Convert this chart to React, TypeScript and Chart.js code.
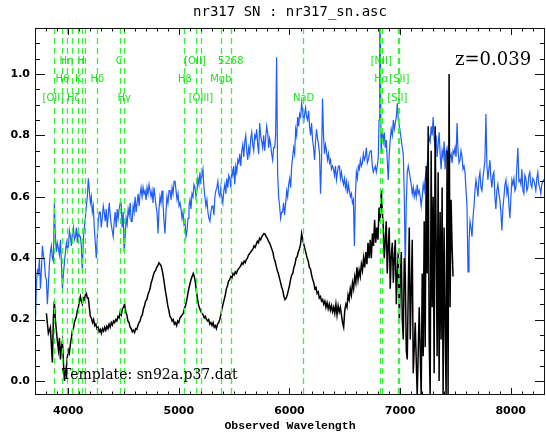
import React, { useEffect, useRef } from "react";
import { Chart, registerables } from "chart.js";

Chart.register(...registerables);

const X_MIN = 3700;
const X_MAX = 8310;
const Y_MIN = -0.046;
const Y_MAX = 1.15;

const xTickValues = [4000, 5000, 6000, 7000, 8000];
const yTickValues = [0, 0.2, 0.4, 0.6, 0.8, 1.0];

const titleText = "nr317 SN : nr317_sn.asc";
const xAxisTitle = "Observed Wavelength";
const redshiftText = "z=0.039";
const templateText = "Template: sn92a.p37.dat";

// observed spectrum (blue)
const obsWave = [
  3705, 3713, 3722, 3731, 3740, 3749, 3758, 3767, 3776, 3785,
  3794, 3803, 3812, 3821, 3830, 3839, 3848, 3857, 3866, 3875,
  3884, 3893, 3902, 3912, 3921, 3930, 3939, 3948, 3957, 3966,
  3975, 3984, 3993, 4002, 4011, 4020, 4029, 4038, 4047, 4056,
  4065, 4074, 4083, 4092, 4101, 4110, 4119, 4128, 4137, 4146,
  4155, 4164, 4173, 4182, 4191, 4200, 4209, 4218, 4227, 4236,
  4245, 4254, 4263, 4272, 4281, 4290, 4299, 4308, 4317, 4326,
  4335, 4344, 4353, 4362, 4371, 4380, 4389, 4398, 4407, 4416,
  4425, 4434, 4443, 4452, 4461, 4470, 4479, 4488, 4497, 4506,
  4515, 4524, 4533, 4542, 4551, 4560, 4569, 4578, 4587, 4596,
  4605, 4614, 4623, 4632, 4641, 4650, 4659, 4668, 4677, 4686,
  4695, 4704, 4713, 4722, 4731, 4740, 4749, 4758, 4767, 4776,
  4785, 4794, 4803, 4812, 4821, 4830, 4839, 4848, 4857, 4866,
  4875, 4884, 4893, 4902, 4912, 4921, 4930, 4939, 4948, 4957,
  4966, 4975, 4984, 4993, 5002, 5011, 5020, 5029, 5038, 5047,
  5056, 5065, 5074, 5083, 5092, 5101, 5110, 5119, 5128, 5137,
  5146, 5155, 5164, 5173, 5182, 5191, 5200, 5209, 5218, 5227,
  5236, 5245, 5254, 5263, 5272, 5281, 5290, 5299, 5308, 5317,
  5326, 5335, 5344, 5353, 5362, 5371, 5380, 5389, 5398, 5407,
  5416, 5425, 5434, 5443, 5452, 5461, 5470, 5479, 5488, 5497,
  5506, 5515, 5524, 5533, 5542, 5551, 5560, 5569, 5578, 5587,
  5596, 5605, 5614, 5623, 5632, 5641, 5650, 5659, 5668, 5677,
  5686, 5695, 5704, 5713, 5722, 5731, 5740, 5749, 5758, 5767,
  5776, 5785, 5794, 5803, 5812, 5821, 5830, 5839, 5848, 5857,
  5866, 5875, 5884, 5893, 5902, 5911, 5920, 5929, 5938, 5947,
  5956, 5966, 5975, 5984, 5993, 6002, 6011, 6020, 6029, 6038,
  6047, 6056, 6065, 6074, 6083, 6092, 6101, 6110, 6119, 6128,
  6137, 6146, 6155, 6164, 6173, 6182, 6191, 6200, 6209, 6218,
  6227, 6236, 6245, 6254, 6263, 6272, 6281, 6290, 6299, 6308,
  6317, 6326, 6335, 6344, 6353, 6362, 6371, 6380, 6389, 6398,
  6407, 6416, 6425, 6434, 6443, 6452, 6461, 6470, 6479, 6488,
  6497, 6506, 6515, 6524, 6533, 6542, 6551, 6560, 6569, 6578,
  6587, 6596, 6605, 6614, 6623, 6632, 6641, 6650, 6659, 6668,
  6677, 6686, 6695, 6704, 6713, 6722, 6731, 6740, 6749, 6758,
  6767, 6776, 6785, 6794, 6803, 6810, 6816, 6822, 6828, 6839,
  6848, 6857, 6866, 6875, 6884, 6893, 6902, 6911, 6920, 6930,
  6939, 6948, 6957, 6966, 6975, 6984, 6993, 7002, 7011, 7020,
  7029, 7038, 7047, 7056, 7065, 7074, 7083, 7092, 7101, 7110,
  7119, 7128, 7137, 7146, 7155, 7164, 7173, 7182, 7191, 7200,
  7209, 7218, 7227, 7236, 7245, 7254, 7263, 7272, 7281, 7290,
  7299, 7308, 7317, 7326, 7335, 7344, 7353, 7362, 7371, 7380,
  7389, 7398, 7407, 7416, 7425, 7434, 7443, 7452, 7461, 7470,
  7479, 7488, 7497, 7506, 7515, 7524, 7533, 7542, 7551, 7560,
  7569, 7578, 7587, 7596, 7605, 7614, 7623, 7632, 7641, 7650,
  7659, 7668, 7677, 7686, 7695, 7704, 7713, 7722, 7731, 7740,
  7749, 7758, 7767, 7776, 7785, 7794, 7803, 7812, 7821, 7830,
  7839, 7848, 7857, 7866, 7875, 7884, 7893, 7902, 7911, 7920,
  7929, 7939, 7948, 7957, 7966, 7975, 7984, 7993, 8002, 8011,
  8020, 8029, 8038, 8047, 8056, 8065, 8074, 8083, 8092, 8101,
  8110, 8119, 8128, 8137, 8146, 8155, 8164, 8173, 8182, 8191,
  8200, 8209, 8218, 8227, 8236, 8245, 8254, 8263, 8272, 8281,
  8290, 8299, 8308,
];
const obsFlux = [
  0.205, 0.32, 0.36, 0.35, 0.40, 0.30, 0.36, 0.44, 0.41, 0.39,
  0.34, 0.33, 0.25, 0.31, 0.38, 0.42, 0.44, 0.40, 0.39, 0.58,
  0.47, 0.42, 0.45, 0.43, 0.41, 0.46, 0.38, 0.30, 0.35, 0.385,
  0.42, 0.45, 0.43, 0.44, 0.49, 0.47, 0.44, 0.48, 0.50, 0.46,
  0.47, 0.50, 0.45, 0.49, 0.47, 0.47, 0.44, 0.36, 0.46, 0.50,
  0.53, 0.57, 0.60, 0.66, 0.62, 0.58, 0.60, 0.55, 0.57, 0.50,
  0.45, 0.40, 0.47, 0.52, 0.55, 0.55, 0.50, 0.53, 0.57, 0.55,
  0.52, 0.56, 0.50, 0.54, 0.58, 0.54, 0.51, 0.49, 0.47, 0.52,
  0.55, 0.50, 0.56, 0.53, 0.56, 0.58, 0.58, 0.50, 0.55, 0.42,
  0.47, 0.53, 0.51, 0.56, 0.54, 0.58, 0.52, 0.52, 0.57, 0.55,
  0.60, 0.55, 0.58, 0.61, 0.57, 0.61, 0.63, 0.60, 0.63, 0.61,
  0.62, 0.59, 0.63, 0.61, 0.64, 0.62, 0.60, 0.62, 0.58, 0.63,
  0.60, 0.57, 0.55, 0.48, 0.56, 0.60, 0.58, 0.62, 0.58, 0.52,
  0.48, 0.55, 0.60, 0.58, 0.62, 0.62, 0.59, 0.63, 0.61, 0.65,
  0.65, 0.62, 0.59, 0.61, 0.57, 0.58, 0.56, 0.53, 0.55, 0.51,
  0.52, 0.47, 0.49, 0.53, 0.57, 0.59, 0.56, 0.61, 0.60, 0.64,
  0.63, 0.60, 0.62, 0.66, 0.64, 0.68, 0.64, 0.67, 0.69, 0.63,
  0.60, 0.57, 0.59, 0.55, 0.53, 0.52, 0.55, 0.57, 0.57, 0.54,
  0.60, 0.62, 0.63, 0.65, 0.61, 0.60, 0.63, 0.60, 0.58, 0.62,
  0.64, 0.61, 0.66, 0.63, 0.67, 0.66, 0.63, 0.69, 0.67, 0.70,
  0.64, 0.70, 0.68, 0.72, 0.71, 0.74, 0.70, 0.75, 0.77, 0.73,
  0.78, 0.80, 0.75, 0.72, 0.76, 0.74, 0.79, 0.81, 0.77, 0.75,
  0.80, 0.79, 0.82, 0.77, 0.74, 0.84, 0.80, 0.78, 0.76, 0.80,
  0.75, 0.79, 0.83, 0.81, 0.76, 0.79, 0.77, 0.74, 0.72, 0.76,
  0.76, 0.80, 1.055, 0.68, 0.60, 0.57, 0.53, 0.55, 0.55, 0.58,
  0.54, 0.58, 0.62, 0.60, 0.64, 0.66, 0.63, 0.70, 0.73, 0.76,
  0.74, 0.82, 0.80, 0.86, 0.83, 0.87, 0.86, 0.905, 0.88, 0.84,
  0.87, 0.89, 0.86, 0.85, 0.88, 0.83, 0.80, 0.84, 0.785, 0.76,
  0.72, 0.78, 0.82, 0.79, 0.77, 0.74, 0.61, 0.72, 0.92, 0.80,
  0.74, 0.77, 0.75, 0.72, 0.74, 0.71, 0.72, 0.69, 0.70, 0.69,
  0.67, 0.70, 0.655, 0.68, 0.70, 0.70, 0.66, 0.68, 0.655, 0.64,
  0.66, 0.63, 0.65, 0.61, 0.64, 0.62, 0.60, 0.61, 0.58, 0.59,
  0.44, 0.60, 0.68, 0.66, 0.70, 0.69, 0.72, 0.70, 0.71, 0.74,
  0.72, 0.73, 0.76, 0.71, 0.72, 0.74, 0.75, 0.75, 0.70, 0.68,
  0.69, 0.70, 0.68, 0.70, 0.73, 0.85, 1.20, 1.10, 0.74, 0.81,
  0.78, 0.81, 0.76, 0.785, 0.72, 0.655, 0.74, 0.785, 0.82, 0.80,
  0.85, 0.82, 0.84, 0.86, 0.905, 0.85, 0.83, 0.81, 0.785, 0.76,
  0.74, 0.60, 0.36, 0.58, 0.68, 0.70, 0.68, 0.66, 0.64, 0.61,
  0.63, 0.60, 0.62, 0.60, 0.64, 0.61, 0.62, 0.60, 0.57, 0.60,
  0.64, 0.62, 0.66, 0.68, 0.70, 0.76, 0.795, 0.78, 0.83, 0.80,
  0.86, 0.79, 0.76, 0.80, 0.73, 0.77, 0.81, 0.74, 0.69, 0.75,
  0.73, 0.78, 0.69, 0.75, 0.76, 0.70, 0.69, 0.73, 0.74, 0.71,
  0.75, 0.74, 0.76, 0.73, 0.84, 0.75, 0.71, 0.72, 0.75, 0.73,
  0.69, 0.70, 0.68, 0.62, 0.57, 0.355, 0.45, 0.52, 0.50, 0.47,
  0.53, 0.57, 0.62, 0.655, 0.63, 0.60, 0.66, 0.68, 0.63, 0.62,
  0.66, 0.69, 0.72, 0.87, 0.70, 0.655, 0.69, 0.72, 0.66, 0.63,
  0.67, 0.68, 0.60, 0.56, 0.62, 0.64, 0.61, 0.59, 0.55, 0.49,
  0.56, 0.60, 0.64, 0.655, 0.61, 0.63, 0.57, 0.53, 0.60, 0.655,
  0.64, 0.66, 0.62, 0.63, 0.70, 0.76, 0.65, 0.655, 0.64, 0.69,
  0.62, 0.61, 0.67, 0.66, 0.62, 0.63, 0.67, 0.68, 0.64, 0.63,
  0.66, 0.655, 0.64, 0.62, 0.66, 0.68, 0.64, 0.63, 0.61, 0.64,
  0.65, 0.655, 0.65,
];

// template spectrum (black)
const tmplWave = [
  3803, 3821, 3839, 3857, 3866, 3875, 3884, 3893, 3902, 3912,
  3921, 3930, 3939, 3948, 3957, 3966, 3975, 3984, 3993, 4002,
  4011, 4020, 4029, 4038, 4047, 4056, 4065, 4074, 4083, 4092,
  4101, 4110, 4119, 4128, 4137, 4146, 4155, 4164, 4173, 4182,
  4191, 4200,
  4210, 4220, 4230, 4240, 4250, 4260, 4270, 4280, 4290, 4300,
  4310, 4320, 4330, 4340, 4350, 4360, 4370, 4380, 4390, 4400,
  4410, 4420, 4430, 4440, 4450, 4460, 4470, 4480, 4490, 4500,
  4510, 4520, 4530, 4540, 4550, 4560, 4570, 4580, 4590, 4600,
  4610, 4620, 4630, 4640, 4650, 4660, 4670, 4680, 4690, 4700,
  4710, 4720, 4730, 4740, 4750, 4760, 4770, 4780, 4790, 4800,
  4810, 4820, 4830, 4840, 4850, 4860, 4870, 4880, 4890, 4900,
  4910, 4920, 4930, 4940, 4950, 4960, 4970, 4980, 4990, 5000,
  5010, 5020, 5030, 5040, 5050, 5060, 5070, 5080, 5090, 5100,
  5110, 5120, 5130, 5140, 5150, 5160, 5170, 5180, 5190, 5200,
  5210, 5220, 5230, 5240, 5250, 5260, 5270, 5280, 5290, 5300,
  5310, 5320, 5330, 5340, 5350, 5360, 5370, 5380, 5390, 5400,
  5410, 5420, 5430, 5440, 5450, 5460, 5470, 5480, 5490, 5500,
  5510, 5520, 5530, 5540, 5550, 5560, 5570, 5580, 5590, 5600,
  5610, 5620, 5630, 5640, 5650, 5660, 5670, 5680, 5690, 5700,
  5710, 5720, 5730, 5740, 5750, 5760, 5770, 5780, 5790, 5800,
  5810, 5820, 5830, 5840, 5850, 5860, 5870, 5880, 5890, 5900,
  5910, 5920, 5930, 5940, 5950, 5960, 5970, 5980, 5990, 6000,
  6010, 6020, 6030, 6040, 6050, 6060, 6070, 6080, 6090, 6100,
  6110, 6120, 6130, 6140, 6150, 6160, 6170, 6180, 6190, 6200,
  6210, 6220, 6230, 6240, 6250, 6260, 6270, 6280, 6290, 6300,
  6310, 6320, 6330, 6340, 6350, 6360, 6370, 6380, 6390, 6400,
  6410, 6420, 6430, 6440, 6450, 6460, 6470, 6480, 6490, 6500,
  6510, 6520, 6530, 6540, 6550, 6560, 6570, 6580, 6590, 6600,
  6610, 6620, 6630, 6640, 6650, 6660, 6670, 6680, 6690, 6700,
  6710, 6720, 6730, 6740, 6750, 6760, 6770, 6780, 6790, 6800,
  6810, 6820, 6830, 6840,
  6848, 6857, 6866, 6875, 6884, 6893, 6902, 6911, 6920, 6930,
  6939, 6948, 6957, 6966, 6975, 6984, 6993, 7002, 7011, 7020,
  7029, 7038, 7047, 7056, 7065, 7074, 7083, 7092, 7110, 7119,
  7137, 7155, 7173, 7191, 7200, 7209, 7218, 7227, 7236, 7245,
  7254, 7263, 7272, 7281, 7290, 7299, 7308, 7317, 7326, 7335,
  7344, 7353, 7362, 7371, 7380, 7389, 7398, 7407, 7416, 7425,
  7434, 7443, 7452, 7461, 7470, 7479,
];
const tmplFlux = [
  0.22, 0.155, 0.175, 0.06, 0.20, 0.26, 0.20, 0.165, 0.13, 0.10,
  0.14, 0.07, 0.11, 0.13, 0.06, 0.0, 0.03, 0.045, 0.08, 0.10,
  0.09, 0.12, 0.14, 0.165, 0.17, 0.19, 0.20, 0.21, 0.23, 0.24,
  0.26, 0.275, 0.26, 0.25, 0.27, 0.265, 0.28, 0.285, 0.27, 0.27,
  0.24, 0.21,
  0.205, 0.19, 0.20, 0.18, 0.185, 0.17, 0.175, 0.16, 0.168, 0.155,
  0.17, 0.162, 0.175, 0.165, 0.178, 0.17, 0.185, 0.175, 0.19, 0.182,
  0.195, 0.19, 0.20, 0.195, 0.21, 0.205, 0.225, 0.215, 0.235, 0.24,
  0.25, 0.225, 0.215, 0.195, 0.19, 0.175, 0.17, 0.16, 0.165, 0.158,
  0.17, 0.168, 0.18, 0.19, 0.195, 0.21, 0.215, 0.235, 0.245, 0.26,
  0.265, 0.28, 0.29, 0.30, 0.32, 0.33, 0.345, 0.355, 0.36, 0.37,
  0.375, 0.385, 0.38, 0.375, 0.36, 0.34, 0.315, 0.29, 0.27, 0.245,
  0.23, 0.21, 0.205, 0.195, 0.20, 0.185, 0.19, 0.18, 0.195, 0.19,
  0.205, 0.21, 0.215, 0.22, 0.235, 0.245, 0.26, 0.28, 0.30, 0.315,
  0.33, 0.34, 0.35, 0.34, 0.32, 0.29, 0.265, 0.245, 0.235, 0.225,
  0.22, 0.215, 0.205, 0.21, 0.20, 0.195, 0.20, 0.185, 0.19, 0.18,
  0.19, 0.175, 0.18, 0.17, 0.185, 0.19, 0.20, 0.215, 0.235, 0.25,
  0.265, 0.28, 0.30, 0.31, 0.325, 0.33, 0.34, 0.335, 0.35, 0.345,
  0.355, 0.35, 0.36, 0.365, 0.37, 0.375, 0.385, 0.38, 0.39, 0.385,
  0.395, 0.40, 0.41, 0.415, 0.42, 0.425, 0.43, 0.44, 0.435, 0.445,
  0.455, 0.45, 0.465, 0.46, 0.47, 0.475, 0.48, 0.478, 0.47, 0.465,
  0.455, 0.45, 0.44, 0.43, 0.42, 0.40, 0.39, 0.375, 0.36, 0.35,
  0.335, 0.32, 0.305, 0.295, 0.275, 0.265, 0.27, 0.28, 0.295, 0.31,
  0.33, 0.345, 0.35, 0.37, 0.38, 0.40, 0.405, 0.42, 0.43, 0.445,
  0.48, 0.46, 0.445, 0.43, 0.415, 0.40, 0.39, 0.37, 0.365, 0.345,
  0.33, 0.32, 0.30, 0.305, 0.285, 0.29, 0.27, 0.275, 0.26, 0.265,
  0.25, 0.26, 0.24, 0.255, 0.235, 0.25, 0.23, 0.245, 0.225, 0.24,
  0.22, 0.25, 0.215, 0.245, 0.225, 0.24, 0.215, 0.19, 0.175, 0.23,
  0.25, 0.24, 0.28, 0.265, 0.30, 0.28, 0.32, 0.30, 0.34, 0.32,
  0.37, 0.33, 0.36, 0.34, 0.38, 0.36, 0.40, 0.37, 0.42, 0.38,
  0.45, 0.40, 0.46, 0.40, 0.48, 0.44, 0.525, 0.45, 0.50, 0.46,
  0.565, 0.52, 0.62, 0.55,
  0.50, 0.40, 0.46, 0.52, 0.35, 0.44, 0.50, 0.30, 0.405, 0.45,
  0.32, 0.40, 0.46, 0.25, 0.35, 0.42, 0.19, 0.33, 0.42, 0.20,
  0.135, 0.40, 0.35, 0.10, 0.07, 0.30, 0.50, 0.135, 0.46, 0.025,
  0.19, -0.05, 0.24, -0.05, 0.35, 0.08, 0.52, 0.11, 0.70, 0.35,
  0.83, 0.135, -0.05, 0.75, 0.24, 0.60, 0.025, 0.83, 0.46, 0.08,
  0.68, 0.0, 0.55, 0.135, 0.63, -0.05, 0.50, 0.19, -0.05, 0.75,
  -0.05, 1.0, 0.24, 0.59, 0.44, 0.34,
];

// spectral line markers (observed wavelength)
const lineWaves = [
  3872, 3946, 3985, 4035, 4087, 4121, 4148, 4262, 4472, 4509,
  5051, 5152, 5202, 5377, 5473, 6122, 6819, 6840, 6978, 6993,
];
const labelTexts = [
  "Hη", "H", "C", "[OII]", "5268", "[NII]",
  "Hθ", "K", "Hδ", "Hβ", "Mgb", "Hα", "[SII]",
  "[OII]", "Hζ", "Hγ", "[OIII]", "NaD", "[SII]",
];
const labelWaves = [
  3984, 4119, 4461, 5146, 5470, 6830,
  3948, 4092, 4263, 5056, 5380, 6830, 6993,
  3866, 4047, 4506, 5200, 6128, 6975,
];
const labelRows = [
  0, 0, 0, 0, 0, 0,
  1, 1, 1, 1, 1, 1, 1,
  2, 2, 2, 2, 2, 2,
];

const overlayPlugin = {
  id: "overlay",
  afterDatasetsDraw(chart: any) {
    const { ctx, chartArea: a, scales } = chart;
    const x = scales.x;
    const y = scales.y;
    ctx.save();
    ctx.beginPath();
    ctx.rect(a.left, a.top, a.right - a.left, a.bottom - a.top);
    ctx.clip();
    ctx.strokeStyle = "#3cf03c";
    ctx.lineWidth = 1.3;
    ctx.setLineDash([6, 4]);
    for (const w of lineWaves) {
      const px = Math.round(x.getPixelForValue(w)) + 0.5;
      ctx.beginPath();
      ctx.moveTo(px, a.top);
      ctx.lineTo(px, a.bottom);
      ctx.stroke();
    }
    ctx.setLineDash([]);
    const rowOffsets = [33, 51, 70];
    ctx.fillStyle = "#22e022";
    ctx.font = '10px "DejaVu Sans"';
    ctx.textAlign = "center";
    ctx.textBaseline = "middle";
    labelTexts.forEach((t, i) => {
      ctx.fillText(t, x.getPixelForValue(labelWaves[i]), a.top + rowOffsets[labelRows[i]]);
    });
    ctx.restore();

    ctx.save();
    ctx.strokeStyle = "#111";
    ctx.lineWidth = 1;
    ctx.strokeRect(a.left + 0.5, a.top + 0.5, a.right - a.left - 1, a.bottom - a.top - 1);
    ctx.beginPath();
    for (let v = 3700; v <= X_MAX; v += 100) {
      const px = Math.round(x.getPixelForValue(v)) + 0.5;
      if (px < a.left || px > a.right) continue;
      const major = v % 1000 === 0;
      const len = major ? 7 : 3.5;
      ctx.moveTo(px, a.bottom);
      ctx.lineTo(px, a.bottom - len);
      ctx.moveTo(px, a.top);
      ctx.lineTo(px, a.top + len);
    }
    for (let i = 0; i <= 23; i++) {
      const v = i * 0.05;
      const py = Math.round(y.getPixelForValue(v)) + 0.5;
      if (py < a.top || py > a.bottom) continue;
      const major = i % 4 === 0;
      const len = major ? 10 : 5;
      ctx.moveTo(a.left, py);
      ctx.lineTo(a.left + len, py);
      ctx.moveTo(a.right, py);
      ctx.lineTo(a.right - len, py);
    }
    ctx.stroke();

    ctx.fillStyle = "#000";
    ctx.textAlign = "center";
    ctx.textBaseline = "middle";
    ctx.font = '14px "DejaVu Sans Mono"';
    ctx.fillText(titleText, (a.left + a.right) / 2, 12);
    ctx.font = 'bold 11.5px "Liberation Mono"';
    ctx.fillText(xAxisTitle, (a.left + a.right) / 2, 426);
    ctx.textAlign = "left";
    ctx.textBaseline = "alphabetic";
    ctx.font = '18px "DejaVu Serif"';
    ctx.fillText(redshiftText, a.right - 90, a.top + 37);
    ctx.font = '14px "DejaVu Serif"';
    ctx.fillText(templateText, a.left + 27, a.bottom - 16);
    ctx.restore();
  },
};

export default function App() {
  const ref = useRef<HTMLCanvasElement | null>(null);
  useEffect(() => {
    if (!ref.current) return;
    const obsPoints = obsWave.map((w, i) => ({ x: w, y: obsFlux[i] }));
    const tmplPoints = tmplWave.map((w, i) => ({ x: w, y: tmplFlux[i] }));
    const tickFont = { family: "DejaVu Sans", size: 11, weight: "bold" as const };
    const chart = new Chart(ref.current, {
      type: "line",
      data: {
        datasets: [
          {
            data: tmplPoints,
            borderColor: "#000000",
            borderWidth: 1.5,
            pointRadius: 0,
            tension: 0,
            order: 1,
          },
          {
            data: obsPoints,
            borderColor: "#1f5cff",
            borderWidth: 1.2,
            pointRadius: 0,
            tension: 0,
            order: 2,
          },
        ],
      },
      options: {
        responsive: false,
        animation: false,
        devicePixelRatio: 1,
        layout: { padding: { top: 28, right: 1, left: 0, bottom: 0 } },
        plugins: { legend: { display: false }, tooltip: { enabled: false }, title: { display: false } },
        scales: {
          x: {
            type: "linear",
            min: X_MIN,
            max: X_MAX,
            grid: { display: false, drawTicks: false },
            border: { display: false },
            ticks: {
              font: tickFont,
              color: "#000",
              padding: 10,
              maxRotation: 0,
              autoSkip: false,
              callback: (v: any) => String(v),
            },
            afterBuildTicks: (s: any) => {
              s.ticks = xTickValues.map((v) => ({ value: v }));
            },
            afterFit: (s: any) => {
              s.height = 39;
            },
          },
          y: {
            type: "linear",
            min: Y_MIN,
            max: Y_MAX,
            grid: { display: false, drawTicks: false },
            border: { display: false },
            ticks: {
              font: tickFont,
              color: "#000",
              padding: 5,
              callback: (v: any) => Number(v).toFixed(1),
            },
            afterBuildTicks: (s: any) => {
              s.ticks = yTickValues.map((v) => ({ value: v }));
            },
            afterFit: (s: any) => {
              s.width = 35;
            },
          },
        },
      },
      plugins: [overlayPlugin],
    });
    return () => chart.destroy();
  }, []);
  return (
    <div style={{ position: "absolute", left: 0, top: 0, width: 546, height: 434, background: "#fff" }}>
      <canvas ref={ref} width={546} height={434} style={{ display: "block" }} />
    </div>
  );
}
